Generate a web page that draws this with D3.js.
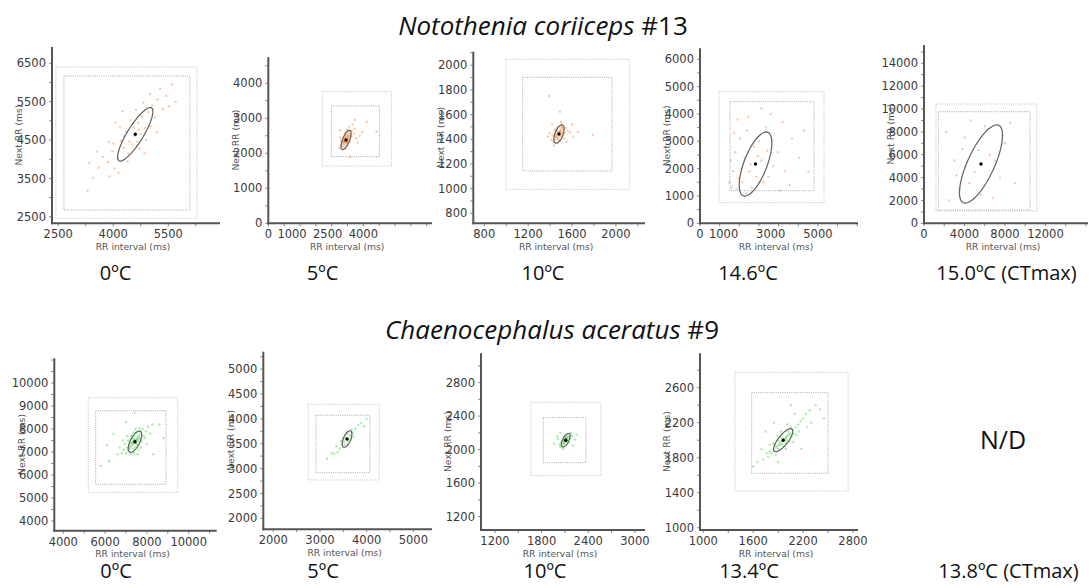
<!DOCTYPE html>
<html>
<head>
<meta charset="utf-8">
<script src="https://cdn.jsdelivr.net/npm/d3@7.9.0/dist/d3.min.js"></script>
<style>
  body { margin: 0; background: #fff; }
  svg { display: block; }
  .tick-label { font-family: "DejaVu Sans", sans-serif; font-size: 11.5px; fill: #3a3a3a; }
  .axis-title { font-family: "DejaVu Sans", sans-serif; font-size: 9.2px; fill: #555; }
  .temp { font-family: "Open Sans", sans-serif; font-size: 20px; fill: #111; }
  .title { font-family: "Open Sans", sans-serif; font-size: 26px; fill: #111; }
</style>
</head>
<body>
<svg id="chart" width="1089" height="588"></svg>
<script>
// species titles and temperatures
const titles = [
  { species: 'Notothenia coriiceps', id: ' #13' },
  { species: 'Chaenocephalus aceratus', id: ' #9' }
];
const temps = ['0ºC', '5ºC', '10ºC', '14.6ºC', '15.0ºC (CTmax)', '0ºC', '5ºC', '10ºC', '13.4ºC', '13.8ºC (CTmax)'];
const speciesOf = ['orange', 'orange', 'orange', 'orange', 'orange', 'green', 'green', 'green', 'green'];

// axis domains (ms)
const xDomains = [[2330, 6910], [0, 6890], [700, 2265], [0, 6700], [0, 16200],
                  [3570, 11340], [1786, 5400], [1020, 3130], [960, 2860]];
const yDomains = [[2330, 6925], [0, 4750], [719, 2109], [0, 6400], [0, 15600],
                  [3580, 11075], [1780, 5350], [1040, 3150], [974, 2993]];

// tick labels as printed
const xTicks = [[2500, 4000, 5500], [0, 1000, 2500, 4000], [800, 1200, 1600, 2000], [0, 1000, 3000, 5000], [0, 4000, 8000, 12000],
                [4000, 6000, 8000, 10000], [2000, 3000, 4000, 5000], [1200, 1800, 2400, 3000], [1000, 1600, 2200, 2800]];
const yTicks = [[2500, 3500, 4500, 5500, 6500], [0, 1000, 2000, 3000, 4000], [800, 1000, 1200, 1400, 1600, 1800, 2000],
                [0, 1000, 2000, 3000, 4000, 5000, 6000], [0, 2000, 4000, 6000, 8000, 10000, 12000, 14000],
                [4000, 5000, 6000, 7000, 8000, 9000, 10000], [2000, 2500, 3000, 3500, 4000, 4500, 5000],
                [1200, 1600, 2000, 2400, 2800], [1000, 1400, 1800, 2200, 2600]];

// dotted boxes [x0, x1, y0, y1]
const outerBoxes = [[2437, 6282, 2466, 6404], [2274, 5179, 1637, 3760], [998, 2122, 994, 2047], [806, 5259, 753, 4813],
                    [1185, 11133, 1076, 10437], [5196, 9474, 5248, 9361], [2749, 4270, 2771, 4294], [1663, 2562, 1689, 2565],
                    [1380, 2741, 1419, 2776]];
const innerBoxes = [[2655, 6091, 2675, 6169], [2653, 4674, 1903, 3351], [1150, 1964, 1143, 1901], [1272, 4835, 1192, 4448],
                    [1412, 10470, 1164, 9764], [5550, 8914, 5596, 8796], [2914, 4071, 2918, 4072], [1821, 2370, 1844, 2381],
                    [1581, 2500, 1622, 2543]];

// ellipses [cx, cy, semi-major, semi-minor, angle deg]
const ellipses = [[4600, 4650, 820, 215, 57], [3272, 2380, 320, 135, 56], [1481, 1442, 80, 36, 65], [2354, 2169, 1273, 480, 65],
                  [5630, 5188, 3814, 1300, 62], [7430, 7450, 520, 220, 60], [3580, 3595, 180, 78, 65], [2110, 2112, 90, 40, 60],
                  [1960, 2000, 165, 58, 50]];

// RR(n), RR(n+1) pairs
const pointsT1 = [[4210,4480],[4350,4720],[4520,4390],[4680,4950],[4790,5120],[4410,4150],[4950,5230],[4120,4020],[3980,4210],[4870,4810],
  [5060,5400],[5210,5560],[4560,4820],[4300,4600],[4650,4460],[3860,3920],[3720,4060],[4030,3760],[5130,5080],[5350,5310],[4470,5020],
  [4740,4660],[4900,4500],[4180,4830],[3600,3780],[5450,5650],[5520,5380],[4620,5290],[4010,4410],[4280,4300],[3450,3520],[5280,5840],
  [4820,5480],[4390,3940],[3880,4450],[4720,4270],[5010,4860],[4150,3650],[4580,4610],[4440,4460],[4690,4770],[3300,3180],[5700,5500],
  [3550,4200],[5180,4700],[4060,4960],[5600,5950],[3900,3550],[4850,4150],[3350,3900],[4250,5250],[5000,5700]];
const pointsT2 = [[3270,2380],[3200,2320],[3340,2450],[3150,2260],[3400,2500],[3230,2410],[3310,2340],[3180,2200],[3360,2560],[3120,2300],
  [3290,2470],[3250,2290],[3420,2420],[3100,2180],[3380,2620],[3220,2500],[3330,2280],[3170,2350],[3450,2550],[3060,2240],[3280,2200],
  [3240,2590],[3500,2480],[3140,2420],[3360,2360],[3210,2130],[3300,2680],[3520,2640],[3080,2350],[3440,2330],[3600,2560],[3700,2430],
  [3850,2500],[3650,2700],[2980,2150],[3020,2450],[3400,2760],[3550,2820],[3950,2600],[4150,2900],[4560,2620],[3650,2950],[3440,1900],
  [3020,2660],[3760,2300],[3260,2400],[3300,2420],[3230,2350],[3350,2500],[3190,2280],[3320,2390],[3270,2330],[3210,2450],[3380,2470],
  [3160,2330],[3290,2520],[3250,2440],[3340,2400],[3200,2380],[3310,2300]];
const pointsT3 = [[1481,1442],[1460,1420],[1500,1465],[1445,1400],[1520,1480],[1470,1455],[1495,1425],[1430,1385],[1510,1500],[1455,1440],
  [1490,1390],[1440,1470],[1530,1450],[1465,1370],[1505,1520],[1420,1430],[1545,1490],[1475,1410],[1450,1480],[1485,1460],[1515,1435],
  [1410,1395],[1560,1470],[1435,1350],[1500,1540],[1395,1450],[1580,1455],[1470,1500],[1525,1405],[1380,1420],[1393,1750],[1490,1623],
  [1652,1461],[1789,1434],[1600,1520],[1550,1380],[1420,1520],[1610,1420],[1478,1445],[1490,1450],[1468,1430],[1500,1480],[1458,1415],
  [1488,1470],[1472,1400],[1512,1455],[1448,1425],[1495,1440],[1465,1465],[1505,1495]];
const pointsT4 = [[1800,1500],[2100,1900],[1500,2600],[2600,2300],[1350,1300],[2900,1700],[1700,3100],[3300,2600],[2200,1300],[1900,2400],
  [2500,3000],[3600,1900],[1400,1900],[2800,3500],[1600,3800],[3900,3100],[2300,2800],[1550,1250],[3100,2100],[2000,3400],[4200,2400],
  [1750,2000],[2700,1500],[3500,3700],[1450,3300],[2400,1700],[1950,1100],[3000,4000],[4400,3400],[2600,4200],[1300,2300],[3800,1400],
  [2150,2150],[1650,1650],[2850,2650],[4600,1900],[3400,1200],[2050,3900],[1250,1500],[2450,2450]];
const pointsT5 = [[3500,3000],[5000,4500],[6500,6000],[4000,7500],[7500,4000],[3000,5500],[5600,2500],[8000,7000],[2500,2000],[6000,8500],
  [4500,3500],[7000,5500],[3800,6500],[5400,6400],[9000,3500],[2200,8000],[6800,2200],[4600,9000],[8500,8800],[3200,4200]];
const pointsB1 = [[7430,7450],[7300,7300],[7550,7600],[7200,7150],[7650,7750],[7350,7500],[7500,7350],[7100,7050],[7700,7900],[7250,7400],
  [7450,7200],[7600,7500],[7150,7300],[7400,7700],[7000,6950],[7800,8000],[7300,7600],[7550,7300],[7050,7200],[7850,7700],[7200,6900],
  [7650,8050],[6900,7100],[7950,7900],[7350,7150],[7500,7850],[7100,7500],[7750,7450],[6800,6950],[8050,8100],[7250,7700],[7600,7100],
  [6950,7350],[7900,7600],[7450,8000],[7400,6950],[6700,7200],[8150,7800],[7050,7700],[7700,7200],[6600,6900],[8250,8200],[7350,7850],
  [7550,6900],[6850,7500],[8000,7350],[6200,6600],[8600,8200],[7000,8300],[8300,6900],[6400,7800],[5800,6400],[8800,7600],[7400,8700],
  [6100,7300],[7420,7480],[7380,7420],[7480,7520],[7330,7350],[7520,7560],[7280,7380],[7460,7380],[7400,7560],[7560,7680],[7220,7250],
  [7620,7620],[7160,7180],[7350,7420],[7500,7450],[7680,7580]];
const pointsB2 = [[3580,3595],[3520,3540],[3640,3660],[3470,3480],[3700,3720],[3550,3620],[3610,3560],[3420,3400],[3760,3800],[3500,3600],
  [3660,3590],[3380,3330],[3820,3880],[3300,3300],[3880,3920],[3590,3700],[3540,3480],[3250,3310],[3950,3850],[3450,3550],[3720,3640],
  [3350,3450],[3680,3780],[3150,3200],[4000,4000]];
const pointsB3 = [[2110,2112],[2090,2090],[2130,2135],[2070,2070],[2150,2160],[2100,2140],[2125,2095],[2060,2040],[2170,2190],[2085,2120],
  [2140,2110],[2050,2080],[2160,2140],[2095,2060],[2120,2170],[2040,2030],[2180,2200],[2075,2105],[2145,2080],[2115,2150],[2030,2060],
  [2190,2160],[1998,2162],[2040,2202],[2230,2120],[1960,2070],[2200,2050],[2010,2130],[2250,2180],[2080,2010],[2105,2105],[2115,2125],
  [2095,2100],[2125,2120],[2088,2080],[2135,2145],[2100,2125],[2120,2100]];
const pointsB4 = [[1960,2000],[1920,1960],[2000,2040],[1880,1920],[2040,2080],[1940,2030],[1990,1970],[1850,1880],[2080,2120],[1910,1990],
  [1970,1930],[2020,2100],[1860,1940],[2060,2040],[1820,1850],[2110,2150],[1900,1900],[2000,2000],[1950,2070],[2030,1990],[1800,1870],
  [2140,2180],[1870,1830],[2090,2070],[1930,2100],[1780,1810],[2170,2220],[1840,1960],[2050,2150],[1990,1900],[2200,2250],[1760,1850],
  [2120,2060],[1890,2050],[2010,2180],[2230,2300],[1720,1780],[2150,2100],[1800,1950],[2080,1980],[2280,2340],[1700,1900],[2250,2150],
  [1650,1750],[2350,2400],[2100,2300],[1900,1750],[2300,2200],[1750,2100],[2400,2350],[1600,1700],[2180,1900],[1850,2200],[2450,2250],
  [2050,2400],[1955,1990],[1975,2010],[1935,1975],[1995,2025],[1915,1945],[2015,2055],[1965,2020],[1945,1955],[2035,2065],[1895,1935]];
const allPoints = [pointsT1, pointsT2, pointsT3, pointsT4, pointsT5, pointsB1, pointsB2, pointsB3, pointsB4];

// panel placement (pixels): left, right, top, bottom of the axes
const layout = [
  [52, 220, 47, 223.3], [268.3, 432, 57, 223.3], [473.3, 645, 51.7, 223.3], [700, 858, 48.3, 223.3], [924, 1088, 45, 223.3],
  [54.3, 216.7, 358.3, 530.7], [263.3, 432, 351.7, 529.3], [481, 645, 353.3, 530], [700, 858, 353.3, 530]
];
const tempX = [115.5, 322.5, 543, 748, 1006.5, 116, 323, 545, 749, 1008.5];

const svg = d3.select('#chart');
const colors = { orange: '#ee7f2d', green: '#35d035' };

// titles
[[543, 35], [552, 339]].forEach(([cx, by], i) => {
  const t = svg.append('text').attr('class', 'title').attr('x', cx).attr('y', by).attr('text-anchor', 'middle');
  t.append('tspan').attr('font-style', 'italic').text(titles[i].species);
  t.append('tspan').text(titles[i].id);
});

// temperature labels
temps.forEach((label, i) => {
  svg.append('text').attr('class', 'temp')
    .attr('x', tempX[i]).attr('y', i < 5 ? 280 : 578)
    .attr('text-anchor', 'middle').text(label);
});

svg.append('text').attr('class', 'temp').attr('x', 1003).attr('y', 449)
  .attr('text-anchor', 'middle').style('font-size', '25px').text('N/D');

function drawPanel(i) {
  const [L, R, T, B] = layout[i];
  const x = d3.scaleLinear().domain(xDomains[i]).range([L, R]);
  const y = d3.scaleLinear().domain(yDomains[i]).range([B, T]);
  const g = svg.append('g');
  const col = colors[speciesOf[i]];

  // dotted boxes
  [[outerBoxes[i], '#c4c4c4'], [innerBoxes[i], '#a9a9a9']].forEach(([b, c]) => {
    g.append('rect')
      .attr('x', x(b[0])).attr('y', y(b[3]))
      .attr('width', x(b[1]) - x(b[0])).attr('height', y(b[2]) - y(b[3]))
      .attr('fill', 'none').attr('stroke', c).attr('stroke-width', 1)
      .attr('stroke-dasharray', '1,1.2');
  });

  // scatter
  g.selectAll('circle.pt').data(allPoints[i]).join('circle')
    .attr('class', 'pt')
    .attr('cx', d => x(d[0])).attr('cy', d => y(d[1]))
    .attr('r', 1.2).attr('fill', col).attr('fill-opacity', 0.4);

  // ellipse
  const [cx, cy, a, b, ang] = ellipses[i];
  const th = ang * Math.PI / 180;
  const pts = d3.range(0, 72).map(k => {
    const t = k / 72 * 2 * Math.PI;
    return [cx + a * Math.cos(t) * Math.cos(th) - b * Math.sin(t) * Math.sin(th),
            cy + a * Math.cos(t) * Math.sin(th) + b * Math.sin(t) * Math.cos(th)];
  });
  g.append('path')
    .attr('d', d3.line().x(d => x(d[0])).y(d => y(d[1])).curve(d3.curveLinearClosed)(pts))
    .attr('fill', 'none').attr('stroke', '#606060').attr('stroke-width', 1.2);
  g.append('circle').attr('cx', x(cx)).attr('cy', y(cy)).attr('r', 1.7).attr('fill', '#000');

  // minor ticks halfway between labelled ticks
  const xt = xTicks[i], yt = yTicks[i];
  const xStep = (xt[xt.length - 1] - xt[0]) / (xt.length - 1);
  const yStep = (yt[yt.length - 1] - yt[0]) / (yt.length - 1);
  const xMinor = d3.range(xt[0] - xStep * 4, xDomains[i][1], xStep / 2).filter(v => v >= xDomains[i][0] && v <= xDomains[i][1]);
  const yMinor = d3.range(yt[0] - yStep * 4, yDomains[i][1], yStep / 2).filter(v => v >= yDomains[i][0] && v <= yDomains[i][1]);
  xMinor.forEach(v => g.append('line').attr('x1', x(v)).attr('x2', x(v)).attr('y1', B).attr('y2', B + 3)
    .attr('stroke', '#888').attr('stroke-width', 1));
  yMinor.forEach(v => g.append('line').attr('x1', L - 3).attr('x2', L).attr('y1', y(v)).attr('y2', y(v))
    .attr('stroke', '#888').attr('stroke-width', 1));

  // axis lines
  g.append('line').attr('x1', L).attr('x2', L).attr('y1', T).attr('y2', B + 1)
    .attr('stroke', '#555').attr('stroke-width', 2);
  g.append('line').attr('x1', L - 1).attr('x2', R).attr('y1', B).attr('y2', B)
    .attr('stroke', '#555').attr('stroke-width', 2);

  // tick labels
  xt.forEach(v => g.append('text').attr('class', 'tick-label')
    .attr('x', x(v)).attr('y', B + 15).attr('text-anchor', 'middle').text(v));
  yt.forEach(v => g.append('text').attr('class', 'tick-label')
    .attr('x', L - 6).attr('y', y(v)).attr('dy', '0.36em').attr('text-anchor', 'end').text(v));

  // axis titles
  g.append('text').attr('class', 'axis-title')
    .attr('x', (L + R) / 2 - 3).attr('y', B + 26.5).attr('text-anchor', 'middle').text('RR interval (ms)');
  g.append('text').attr('class', 'axis-title')
    .attr('transform', `translate(${L - 33},${(T + B) / 2}) rotate(-90)`)
    .attr('dy', '0.35em').attr('text-anchor', 'middle').text('Next RR (ms)');
}

d3.range(9).forEach(drawPanel);
</script>
</body>
</html>
